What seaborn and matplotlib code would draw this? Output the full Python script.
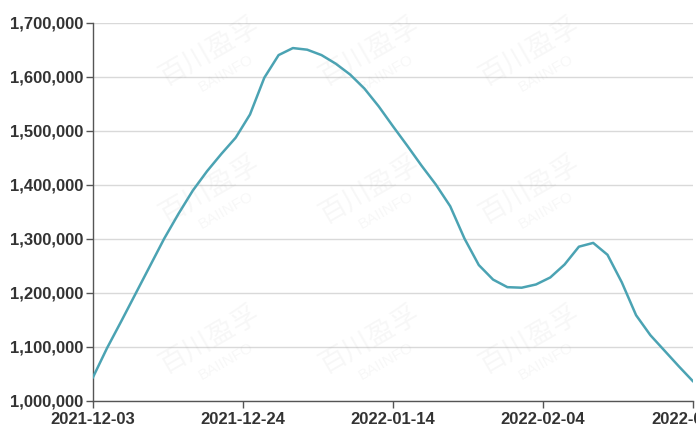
import matplotlib
matplotlib.use("Agg")
import matplotlib.pyplot as plt
import matplotlib.dates as mdates
import matplotlib.ticker as mticker
import seaborn as sns
import pandas as pd

# ---- data ----
start_date = "2021-12-03"
end_date = "2022-02-25"
values = [
    1042000, 1097000, 1147000, 1198000, 1249000, 1300000, 1346000, 1389000,
    1425000, 1457000, 1487000, 1530000, 1598000, 1640000, 1653000, 1650000,
    1640000, 1624000, 1604000, 1578000, 1545000, 1508000, 1472000, 1435000,
    1400000, 1360000, 1300000, 1251000, 1224000, 1210000, 1209000, 1215000,
    1228000, 1252000, 1285000, 1292000, 1270000, 1219000, 1158000, 1121000,
    1092000, 1063000, 1035000,
]
tick_dates = ["2021-12-03", "2021-12-24", "2022-01-14", "2022-02-04", "2022-02-25"]
y_ticks = [1000000, 1100000, 1200000, 1300000, 1400000, 1500000, 1600000, 1700000]

dates = pd.date_range(start_date, end_date, freq="2D")
df = pd.DataFrame({"date": dates, "value": values})

sns.set_theme(style="white")
plt.rcParams["font.family"] = ["Liberation Sans", "DejaVu Sans"]

fig = plt.figure(figsize=(6.96, 4.30), dpi=100)
ax = fig.add_axes([0.1332, 0.0686, 0.9961 - 0.1332, 0.9472 - 0.0686])

# faint watermarks (kept inside the canvas)
wm_cols = [0.30, 0.53, 0.76]
wm_rows = [0.88, 0.56, 0.21]
for yy in wm_rows:
    for xx in wm_cols:
        fig.text(xx, yy, "百川盈孚", fontsize=20, color="#a0a0a0", alpha=0.08,
                 rotation=30, ha="center", va="center",
                 family=["Noto Sans CJK SC", "DejaVu Sans"], zorder=0)
        fig.text(xx + 0.025, yy - 0.05, "BAIINFO", fontsize=11, color="#a0a0a0",
                 alpha=0.08, rotation=30, ha="center", va="center", zorder=0)

sns.lineplot(data=df, x="date", y="value", ax=ax, color="#4ba3b3",
             linewidth=1.8, zorder=3)
for ln in ax.get_lines():
    ln.set_solid_joinstyle("round")
    ln.set_solid_capstyle("round")

ax.set_xlim(pd.Timestamp(start_date), pd.Timestamp(end_date))
ax.set_ylim(y_ticks[0], y_ticks[-1])
ax.set_xticks(pd.to_datetime(tick_dates))
ax.xaxis.set_major_formatter(mdates.DateFormatter("%Y-%m-%d"))
ax.set_yticks(y_ticks)
ax.yaxis.set_major_formatter(mticker.FuncFormatter(lambda v, p: f"{int(v):,}"))

ax.set_xlabel("")
ax.set_ylabel("")
ax.grid(axis="y", color="#d9d9d9", linewidth=1.0)
ax.grid(axis="x", visible=False)
ax.set_axisbelow(True)
ax.patch.set_alpha(0)

for side in ["top", "right"]:
    ax.spines[side].set_visible(False)
for side in ["left", "bottom"]:
    ax.spines[side].set_color("#555555")
    ax.spines[side].set_linewidth(1.0)

ax.tick_params(axis="both", which="major", length=5, width=1, color="#555555",
               labelsize=12, labelcolor="#333333", direction="out",
               left=True, bottom=True)
ax.tick_params(axis="y", pad=2)
ax.tick_params(axis="x", pad=3)
for lab in ax.get_xticklabels() + ax.get_yticklabels():
    lab.set_fontweight("bold")

fig.savefig("out.png", dpi=100)
